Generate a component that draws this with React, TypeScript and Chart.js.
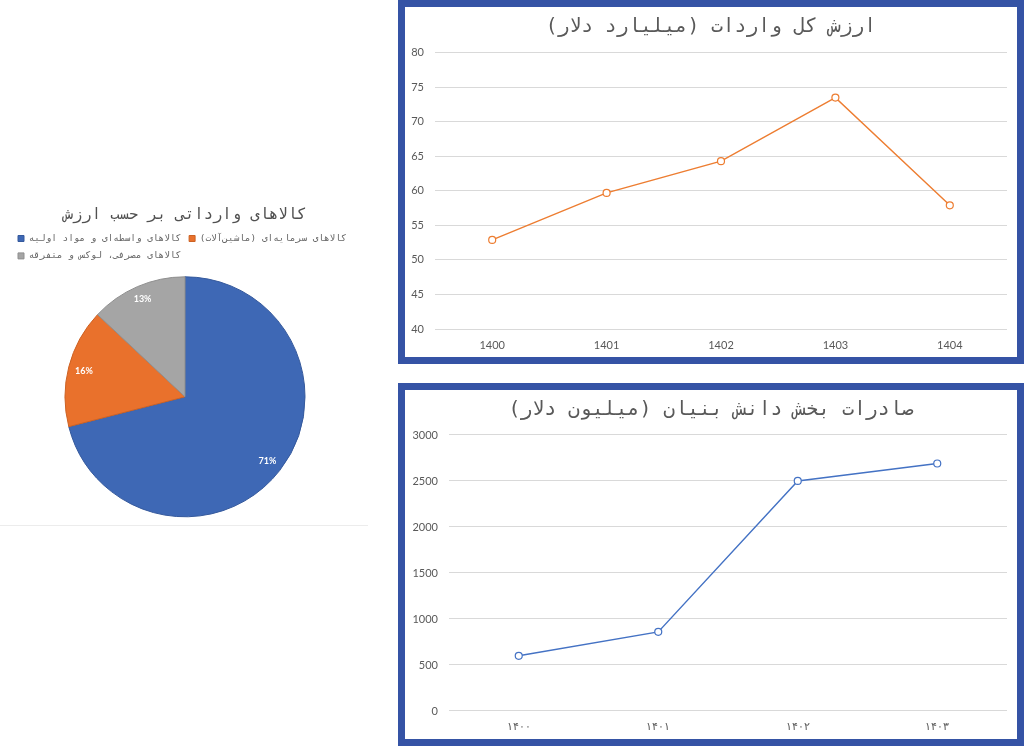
import { useEffect, useRef } from "react"
import { Chart, registerables } from "chart.js"

Chart.register(...registerables)

// wrap persian text in a right-to-left embedding so canvas lays it out properly
const rtl = (s: string) => "\u202B" + s + "\u202C"

// pie: imported goods by value
const pieTitle = "کالاهای وارداتی بر حسب ارزش"
const pieLabels = [
  "کالاهای واسطه‌ای و مواد اولیه",
  "کالاهای سرمایه‌ای (ماشین‌آلات)",
  "کالاهای مصرفی، لوکس و متفرقه",
]
const pieValues = [71, 16, 13]
const pieColors = ["#3e68b5", "#e9712c", "#a5a5a5"]
const pieBorders = ["#35599c", "#cc6224", "#8f8f8f"]

// total imports (billion dollars)
const importsTitle = "ارزش کل واردات (میلیارد دلار)"
const importYears = ["1400", "1401", "1402", "1403", "1404"]
const importValues = [52.9, 59.7, 64.3, 73.5, 57.9]

// knowledge-based exports (million dollars)
const exportsTitle = "صادرات بخش دانش بنیان (میلیون دلار)"
const exportYears = ["۱۴۰۰", "۱۴۰۱", "۱۴۰۲", "۱۴۰۳"]
const exportValues = [600, 860, 2500, 2690]

const MONO = "'DejaVu Sans Mono', monospace"
const TICK_FONT = "Lato, 'Open Sans', sans-serif"

// draws the percentages inside the slices
const sliceLabels = {
  id: "sliceLabels",
  afterDatasetsDraw(chart: any) {
    const { ctx } = chart
    const meta = chart.getDatasetMeta(0)
    const data = chart.data.datasets[0].data as number[]
    const total = data.reduce((a, b) => a + b, 0)
    ctx.save()
    ctx.font = `bold 9px ${TICK_FONT}`
    ctx.fillStyle = "#ffffff"
    ctx.textAlign = "center"
    ctx.textBaseline = "middle"
    meta.data.forEach((arc: any, i: number) => {
      const { x, y, startAngle, endAngle, outerRadius } = arc.getProps(
        ["x", "y", "startAngle", "endAngle", "outerRadius"],
        true
      )
      const mid = (startAngle + endAngle) / 2
      const r = outerRadius * (i === 2 ? 0.89 : 0.87)
      ctx.fillText(Math.round((data[i] / total) * 100) + "%", x + Math.cos(mid) * r, y + Math.sin(mid) * r)
    })
    ctx.restore()
  },
}

function ImportsPie() {
  const chartRef = useRef<HTMLCanvasElement>(null)

  useEffect(() => {
    if (!chartRef.current) return
    const chart = new Chart(chartRef.current, {
      type: "pie",
      data: {
        labels: pieLabels.map(rtl),
        datasets: [
          {
            data: pieValues,
            backgroundColor: pieColors,
            borderColor: pieBorders,
            borderWidth: 1,
            radius: 120,
          },
        ],
      },
      options: {
        responsive: false,
        animation: false,
        layout: { padding: { left: 10, right: 10, bottom: 2 } },
        plugins: {
          title: {
            display: true,
            text: rtl(pieTitle),
            color: "#505050",
            font: { family: MONO, size: 15.5, weight: "normal" },
            padding: { top: 10.7, bottom: 1.5 },
          },
          legend: {
            position: "top",
            align: "start",
            labels: {
              boxWidth: 6,
              boxHeight: 6,
              padding: 8,
              color: "#666666",
              font: { family: MONO, size: 9.4 },
            },
          },
          tooltip: { enabled: false },
        },
      },
      plugins: [sliceLabels],
    } as any)
    return () => chart.destroy()
  }, [])

  return <canvas ref={chartRef} width={370} height={330} style={{ display: "block" }} />
}

type LineProps = {
  title: string
  labels: string[]
  values: number[]
  color: string
  min: number
  max: number
  step: number
  axisWidth: number
  width: number
  height: number
  titleSize: number
  titleTop: number
  titleBottom: number
  xPad: number
}

function LineChart(p: LineProps) {
  const chartRef = useRef<HTMLCanvasElement>(null)

  useEffect(() => {
    if (!chartRef.current) return
    const chart = new Chart(chartRef.current, {
      type: "line",
      data: {
        labels: p.labels,
        datasets: [
          {
            data: p.values,
            borderColor: p.color,
            borderWidth: 1.4,
            pointRadius: 3.5,
            pointBorderWidth: 1.2,
            pointBackgroundColor: "#ffffff",
            pointBorderColor: p.color,
            tension: 0,
          },
        ],
      },
      options: {
        responsive: false,
        animation: false,
        scales: {
          x: {
            offset: true,
            grid: { display: false },
            border: { display: false },
            ticks: { color: "#595959", font: { family: TICK_FONT, size: 11 }, padding: p.xPad },
            afterFit: (s: any) => {
              s.height = 28
            },
          },
          y: {
            min: p.min,
            max: p.max,
            grid: { color: "#d9d9d9", drawTicks: false },
            border: { display: false },
            ticks: {
              stepSize: p.step,
              color: "#595959",
              font: { family: TICK_FONT, size: 11 },
              padding: 11,
              callback: (v: any) => String(v),
            },
            afterFit: (s: any) => {
              s.width = p.axisWidth
            },
          },
          // empty strip on the right so the title centres over the whole frame
          gutter: {
            type: "linear",
            position: "right",
            grid: { display: false },
            border: { display: false },
            ticks: { display: false },
            afterFit: (s: any) => {
              s.width = 10
            },
          },
        },
        plugins: {
          legend: { display: false },
          tooltip: { enabled: false },
          title: {
            display: true,
            text: rtl(p.title),
            color: "#595959",
            font: { family: MONO, size: p.titleSize, weight: "normal" },
            padding: { top: p.titleTop, bottom: p.titleBottom },
          },
        },
      },
    } as any)
    return () => chart.destroy()
  }, [])

  return <canvas ref={chartRef} width={p.width} height={p.height} style={{ display: "block" }} />
}

const frame = {
  position: "absolute" as const,
  left: 398,
  width: 626,
  boxSizing: "border-box" as const,
  border: "7px solid #3553a5",
  background: "#ffffff",
}

export default function App() {
  return (
    <div
      style={{
        position: "fixed",
        left: 0,
        top: 0,
        width: 1024,
        height: 746,
        background: "#ffffff",
        overflow: "hidden",
      }}
    >
      <div style={{ position: "absolute", left: 0, top: 195, width: 370, height: 330 }}>
        <ImportsPie />
        <div style={{ position: "absolute", left: 0, top: 330, width: 368, height: 1, background: "#ececec" }} />
      </div>

      <div style={{ ...frame, top: 0, height: 364 }}>
        <LineChart
          title={importsTitle}
          labels={importYears}
          values={importValues}
          color="#ed7d31"
          min={40}
          max={80}
          step={5}
          axisWidth={30}
          width={612}
          height={350}
          titleSize={19.6}
          titleTop={8.6}
          titleBottom={13.6}
          xPad={2}
        />
      </div>

      <div style={{ ...frame, top: 383, height: 363 }}>
        <LineChart
          title={exportsTitle}
          labels={exportYears}
          values={exportValues}
          color="#4472c4"
          min={0}
          max={3000}
          step={500}
          axisWidth={44}
          width={612}
          height={349}
          titleSize={19.8}
          titleTop={7.6}
          titleBottom={13.6}
          xPad={0.5}
        />
      </div>
    </div>
  )
}
